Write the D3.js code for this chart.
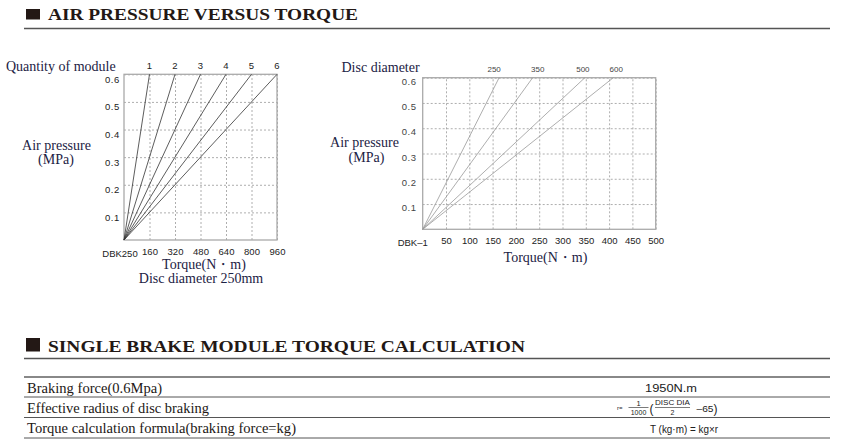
<!DOCTYPE html>
<html>
<head>
<meta charset="utf-8">
<script src="https://cdn.jsdelivr.net/npm/d3@7"></script>
<style>
  html, body { margin: 0; padding: 0; background: #fff; }
  svg { display: block; }
  .serif { font-family: "Liberation Serif", "Times New Roman", serif; }
  .sans  { font-family: "Liberation Sans", Arial, sans-serif; }
</style>
</head>
<body>
<svg id="chart" width="844" height="445"></svg>
<script>
// ── Data ────────────────────────────────────────────────────────────────
const pressureTicks = [0.1, 0.2, 0.3, 0.4, 0.5, 0.6];

// left chart: one line per module count, torque reached at 0.6 MPa
const modules      = [1, 2, 3, 4, 5, 6];
const moduleTorque = [160, 320, 480, 640, 800, 960];
const leftTorqueTicks = [160, 320, 480, 640, 800, 960];

// right chart: one line per disc diameter, torque reached at 0.6 MPa
const discDiameters = [250, 350, 500, 600];
const discTorque    = [164, 236, 348, 409];
const rightTorqueTicks = [50, 100, 150, 200, 250, 300, 350, 400, 450, 500];

const tableLabels = [
  'Braking force(0.6Mpa)',
  'Effective radius of disc braking',
  'Torque calculation formula(braking force=kg)'
];
const tableValues = ['1950N.m', null, 'T (kg·m) = kg×r'];

// ── Setup ───────────────────────────────────────────────────────────────
const svg = d3.select('#chart');
const INK = '#231815', NAVY = '#1c2244';

// ── Section headers ─────────────────────────────────────────────────────
function header(text, squareY, baseline, ruleY, sqW, sqH, len) {
  svg.append('rect').attr('x', 26).attr('y', squareY)
    .attr('width', sqW).attr('height', sqH).attr('fill', INK);
  svg.append('text').attr('class', 'serif')
    .attr('x', 48).attr('y', baseline)
    .attr('font-size', 17).attr('font-weight', 'bold').attr('fill', INK)
    .attr('textLength', len).attr('lengthAdjust', 'spacingAndGlyphs')
    .text(text);
  svg.append('line').attr('x1', 24).attr('x2', 830)
    .attr('y1', ruleY).attr('y2', ruleY)
    .attr('stroke', '#555').attr('stroke-width', 1.6);
}
header('AIR PRESSURE VERSUS TORQUE', 9, 19.5, 28.5, 14, 10.5, 310);
header('SINGLE BRAKE MODULE TORQUE CALCULATION', 338, 352, 358.5, 14, 13.5, 477);

// ── Chart helper ────────────────────────────────────────────────────────
function chart(o) {
  const x = d3.scaleLinear().domain([0, o.xMax]).range([o.x0, o.x1]);
  const y = d3.scaleLinear().domain([0, 0.6]).range([o.y0, o.y1]);
  const gc = svg.append('g');

  // dotted grid
  gc.append('g').attr('transform', `translate(0,${o.y0})`)
    .call(d3.axisBottom(x).tickValues(o.xTicks).tickSize(o.y1 - o.y0).tickFormat(''))
    .call(a => a.select('.domain').remove())
    .selectAll('line').attr('stroke', '#999').attr('stroke-width', 0.8)
    .attr('stroke-dasharray', '2,2');
  gc.append('g').attr('transform', `translate(${o.x0},0)`)
    .call(d3.axisRight(y).tickValues(pressureTicks).tickSize(o.x1 - o.x0).tickFormat(''))
    .call(a => a.select('.domain').remove())
    .selectAll('line').attr('stroke', '#999').attr('stroke-width', 0.8)
    .attr('stroke-dasharray', '2,2');

  // frame
  gc.append('rect').attr('x', o.x0).attr('y', o.y1)
    .attr('width', o.x1 - o.x0).attr('height', o.y0 - o.y1)
    .attr('fill', 'none').attr('stroke', '#aaa').attr('stroke-width', 1.3);

  // y tick labels (sit just below their gridline)
  gc.append('g').attr('transform', `translate(${o.x0},0)`)
    .call(d3.axisLeft(y).tickValues(pressureTicks).tickSize(0).tickPadding(o.yPad)
      .tickFormat(d3.format('.1f')))
    .call(a => a.select('.domain').remove())
    .selectAll('text').attr('class', 'sans').attr('font-size', 9.5)
    .attr('letter-spacing', 0.6).attr('fill', o.yColor).attr('dy', o.yDy);

  // x tick labels
  gc.append('g').attr('transform', `translate(0,${o.y0})`)
    .call(d3.axisBottom(x).tickValues(o.xTicks).tickSize(0).tickPadding(o.xPad))
    .call(a => a.select('.domain').remove())
    .selectAll('text').attr('class', 'sans').attr('font-size', 9.5).attr('fill', '#222');
  gc.append('text').attr('class', 'sans')
    .attr('x', x(0) + o.originDx).attr('y', o.y0 + o.xPad + 9)
    .attr('text-anchor', 'middle').attr('font-size', 9.5).attr('fill', '#222')
    .text(o.originLabel);

  // lines from the origin to the torque at 0.6 MPa
  const line = d3.line().x(d => x(d[0])).y(d => y(d[1]));
  gc.append('g').selectAll('path')
    .data(o.ends).join('path')
    .attr('d', t => line([[0, 0], [t, 0.6]]))
    .attr('fill', 'none').attr('stroke', o.lineColor).attr('stroke-width', 0.8);

  // series labels above the frame
  gc.append('g').selectAll('text')
    .data(o.names).join('text')
    .attr('class', 'sans')
    .attr('x', (d, i) => x(o.ends[i]) + (o.labelDx[i] || 0))
    .attr('y', o.labelY).attr('text-anchor', 'middle')
    .attr('font-size', o.labelSize).attr('fill', o.labelColor)
    .text(d => d);

  return { x, y };
}

// ── Left chart ──────────────────────────────────────────────────────────
chart({
  x0: 124, x1: 277, y0: 240, y1: 74.3, xMax: 960,
  xTicks: leftTorqueTicks, ends: moduleTorque, names: modules,
  lineColor: '#333', labelColor: '#222', labelSize: 9.5, labelY: 68.5, labelDx: [],
  yPad: 4, yDy: '0.85em', yColor: '#222', xPad: 8, originDx: -4, originLabel: 'DBK250'
});

// ── Right chart ─────────────────────────────────────────────────────────
chart({
  x0: 422.7, x1: 655.7, y0: 229.3, y1: 77.7, xMax: 500,
  xTicks: rightTorqueTicks, ends: discTorque, names: discDiameters,
  lineColor: '#999', labelColor: '#444', labelSize: 8, labelY: 72, labelDx: [-5, 5, -2, 3],
  yPad: 6, yDy: '0.7em', yColor: '#444', xPad: 8, originDx: -10, originLabel: 'DBK–1'
});

// ── Chart titles ────────────────────────────────────────────────────────
function label(text, x, y, anchor) {
  svg.append('text').attr('class', 'serif')
    .attr('x', x).attr('y', y).attr('text-anchor', anchor || 'middle')
    .attr('font-size', 14).attr('fill', NAVY).text(text);
}
label('Quantity of module', 6, 70.7, 'start');
label('Air pressure', 56.5, 150);
label('(MPa)', 56, 164.3);
label('Torque(N・m)', 204, 269.3);
label('Disc diameter 250mm', 201, 283.3);

label('Disc diameter', 341.5, 72.3, 'start');
label('Air pressure', 364.5, 147.3);
label('(MPa)', 366.5, 161.7);
label('Torque(N・m)', 545.5, 261.7);

// ── Table ───────────────────────────────────────────────────────────────
const rowLines = [377, 397, 417.5, 438];
svg.append('g').selectAll('line')
  .data(rowLines).join('line')
  .attr('x1', 24).attr('x2', 830)
  .attr('y1', d => d).attr('y2', d => d)
  .attr('stroke', (d, i) => i === 0 ? '#888' : '#555')
  .attr('stroke-width', (d, i) => i === 0 ? 2.2 : 1);

const labelWidths = [135, 182, 269];
svg.append('g').selectAll('text')
  .data(tableLabels).join('text')
  .attr('class', 'serif')
  .attr('x', 27).attr('y', (d, i) => rowLines[i] + 15.5)
  .attr('font-size', 14).attr('fill', INK)
  .attr('textLength', (d, i) => labelWidths[i]).attr('lengthAdjust', 'spacingAndGlyphs')
  .text(d => d);

const valueWidths = [52, 0, 68];
const valueX = [671, 0, 684];
const valueSize = [10.5, 0, 11];
svg.append('g').selectAll('text')
  .data(tableValues.map((v, i) => ({ v, i })).filter(d => d.v))
  .join('text')
  .attr('class', 'sans')
  .attr('x', d => valueX[d.i]).attr('y', d => rowLines[d.i] + 15)
  .attr('text-anchor', 'middle').attr('font-size', d => valueSize[d.i]).attr('fill', '#222')
  .attr('textLength', d => valueWidths[d.i]).attr('lengthAdjust', 'spacingAndGlyphs')
  .text(d => d.v);

// effective radius formula: r = 1/1000 (DISC DIA / 2 − 65)
const f = svg.append('g').attr('class', 'sans').attr('fill', '#222');
f.append('text').attr('x', 617).attr('y', 410).attr('font-size', 6).text('r=');
f.append('text').attr('x', 638.5).attr('y', 405.5).attr('font-size', 7.5)
  .attr('text-anchor', 'middle').text('1');
f.append('line').attr('x1', 628.5).attr('x2', 648.5).attr('y1', 407.5).attr('y2', 407.5)
  .attr('stroke', '#222').attr('stroke-width', 0.6);
f.append('text').attr('x', 638.5).attr('y', 414.5).attr('font-size', 7)
  .attr('text-anchor', 'middle').text('1000');
f.append('text').attr('x', 649.5).attr('y', 412.5).attr('font-size', 12).text('(');
f.append('text').attr('x', 672.5).attr('y', 405).attr('font-size', 7.5)
  .attr('text-anchor', 'middle').attr('textLength', 35)
  .attr('lengthAdjust', 'spacingAndGlyphs').text('DISC DIA');
f.append('line').attr('x1', 655).attr('x2', 690).attr('y1', 407.5).attr('y2', 407.5)
  .attr('stroke', '#222').attr('stroke-width', 0.6);
f.append('text').attr('x', 672.5).attr('y', 414.5).attr('font-size', 7)
  .attr('text-anchor', 'middle').text('2');
f.append('text').attr('x', 696.5).attr('y', 411.5).attr('font-size', 8.5)
  .attr('textLength', 17).attr('lengthAdjust', 'spacingAndGlyphs').text('–65');
f.append('text').attr('x', 713.5).attr('y', 412.5).attr('font-size', 12).text(')');
</script>
</body>
</html>
